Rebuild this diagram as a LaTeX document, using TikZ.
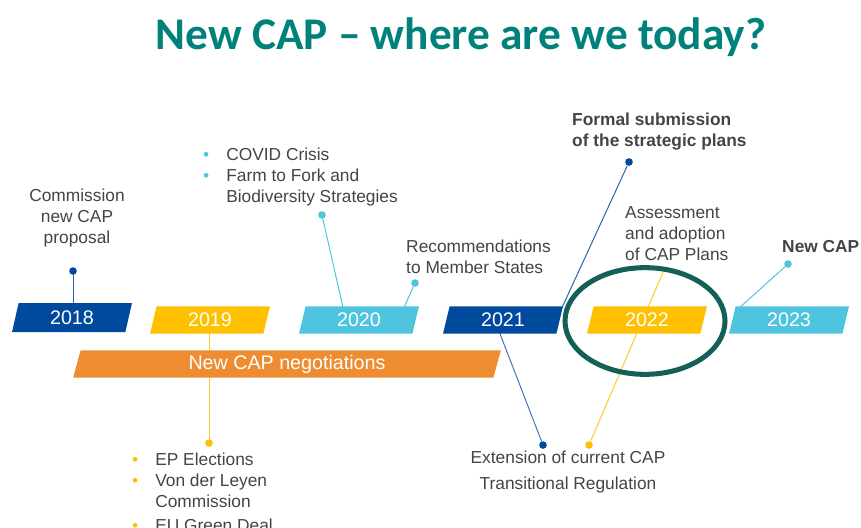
\documentclass[tikz,border=0pt]{standalone}
\usepackage{fontspec}
\setmainfont{Liberation Sans}
\newfontfamily\headfont{Carlito}
\usetikzlibrary{shapes.geometric,backgrounds}

\definecolor{capteal}{RGB}{0,130,122}
\definecolor{ringteal}{RGB}{20,95,88}
\definecolor{capblue}{RGB}{0,74,158}
\definecolor{capyellow}{RGB}{255,192,0}
\definecolor{capcyan}{RGB}{79,196,222}
\definecolor{caporange}{RGB}{237,140,49}
\definecolor{captext}{RGB}{68,68,68}

\newcommand{\bul}[1]{\textcolor{#1}{\textbullet}}

\begin{document}
\begin{tikzpicture}[
  x=0.03cm,y=-0.03cm,
  font=\fontsize{14.8}{17.9}\selectfont,
  label/.style={text=captext,inner sep=0pt,align=left},
  yearbar/.style={trapezium,trapezium left angle=79,trapezium right angle=101,
    trapezium stretches=true,minimum width=3.6cm,minimum height=0.82cm,inner sep=0pt,
    text=white,font=\fontsize{16.8}{19}\selectfont},
  dot/.style={circle,inner sep=0pt,minimum size=6.5pt},
  link/.style={line width=0.85pt}
]
\path[use as bounding box] (0,0) rectangle (861,528);
\clip (0,0) rectangle (861,528);

\node[text=capteal,font=\headfont\bfseries\fontsize{38.7}{44}\selectfont] (title) at (461,37) {New CAP \textendash\ where are we today?};

% time line
\node[yearbar,fill=capblue,minimum height=0.87cm] (y18) at (72,317.5) {2018};
\node[yearbar,fill=capyellow] (y19) at (210,320) {2019};
\node[yearbar,fill=capcyan] (y20) at (359,320) {2020};
\node[yearbar,fill=capblue] (y21) at (503,320) {2021};
\node[yearbar,fill=capyellow] (y22) at (647,320) {2022};
\node[yearbar,fill=capcyan] (y23) at (789,320) {2023};
\node[yearbar,fill=caporange,minimum width=12.84cm] (nego) at (287,364) {New CAP negotiations};

% labels above
\node[label,align=center] (proposal) at (77,218) {Commission\\new CAP\\proposal};
\node[label,anchor=north west] (covid) at (203,146) {\begin{tabular}{@{}l@{\hspace{14.5pt}}l@{}}
  \bul{capcyan} & COVID Crisis\\
  \bul{capcyan} & Farm to Fork and\\
  & Biodiversity Strategies
\end{tabular}};
\node[label,anchor=west] (recomm) at (406,257) {Recommendations\\to Member States};
\node[label,anchor=west,font=\bfseries\fontsize{14.8}{17.9}\selectfont] (submit) at (572,132) {Formal submission\\of the strategic plans};
\node[label,anchor=west] (assess) at (625,234) {Assessment\\and adoption\\of CAP Plans};
\node[label,anchor=west,font=\bfseries\fontsize{14.8}{17.9}\selectfont] (newcap) at (782,247) {New CAP};

% labels below
\node[label,anchor=north west] (ep) at (132,451) {\begin{tabular}{@{}l@{\hspace{14.5pt}}l@{}}
  \bul{capyellow} & EP Elections\\
  \bul{capyellow} & Von der Leyen\\
  & Commission\\[2pt]
  \bul{capyellow} & EU Green Deal
\end{tabular}};
\node[label,align=center] (extension) at (568,472) {Extension of current CAP\\[4.3pt]Transitional Regulation};

% end points
\node[dot,fill=capblue] (d18) at (73,271) {};
\node[dot,fill=capyellow] (d19) at (209,443) {};
\node[dot,fill=capcyan] (d20a) at (322,215) {};
\node[dot,fill=capcyan] (d20b) at (415,283) {};
\node[dot,fill=capblue] (d21a) at (629,162) {};
\node[dot,fill=capblue] (d21b) at (543,445) {};
\node[dot,fill=capyellow] (d22) at (589,445) {};
\node[dot,fill=capcyan] (d23) at (788,264) {};
\coordinate (e20a) at (344,312);
\coordinate (e20b) at (403,310);
\coordinate (e21a) at (560,312);
\coordinate (e21b) at (497,326);
\coordinate (e22) at (664,270);
\coordinate (e23) at (737,310);

\begin{pgfonlayer}{background}
  \draw[link,capblue!85] (d18) -- (d18 |- y18.center);
  \draw[link,capyellow!85] (d19) -- (d19 |- y19.center);
  \draw[link,capcyan] (d20a) -- (e20a);
  \draw[link,capcyan] (d20b) -- (e20b);
  \draw[link,capblue!85] (d21a) -- (e21a);
  \draw[link,capblue!75] (d21b) -- (e21b);
  \draw[link,capyellow!85] (d22) -- (e22);
  \draw[link,capcyan] (d23) -- (e23);
\end{pgfonlayer}

\node[ellipse,draw=ringteal,line width=4.3pt,minimum width=4.8cm,minimum height=3.2cm] (focus) at (645,321) {};
\end{tikzpicture}
\end{document}
